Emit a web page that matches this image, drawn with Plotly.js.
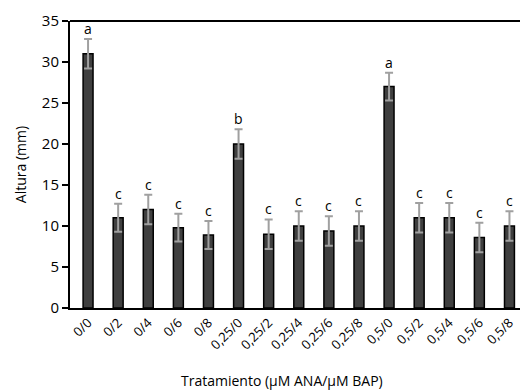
<!DOCTYPE html>
<html><head><meta charset="utf-8">
<script src="https://cdn.plot.ly/plotly-3.0.1.min.js"></script>
<style>html,body{margin:0;padding:0;background:#fff}</style>
</head><body><div id="chart" style="width:520px;height:390px"></div>
<script>
var categories = ["0/0","0/2","0/4","0/6","0/8","0,25/0","0,25/2","0,25/4","0,25/6","0,25/8","0,5/0","0,5/2","0,5/4","0,5/6","0,5/8"];
var heights = [31, 11, 12, 9.8, 8.9, 20, 9, 10, 9.4, 10, 27, 11, 11, 8.6, 10];
var errors = [1.8, 1.7, 1.8, 1.7, 1.7, 1.8, 1.8, 1.8, 1.8, 1.8, 1.7, 1.8, 1.8, 1.8, 1.8];
var letters = ["a","c","c","c","c","b","c","c","c","c","a","c","c","c","c"];

var font = "Open Sans, Liberation Sans, sans-serif";
var annotations = categories.map(function(c, i){
  return {x: i, y: heights[i] + errors[i], text: letters[i], showarrow: false,
          yanchor: "bottom", yshift: -1, font: {family: font, size: 14, color: "#000"}};
});
annotations.push({xref:"paper", yref:"paper", x:0.47, y:0, yshift:-61, text:"Tratamiento (µM ANA/µM BAP)",
  showarrow:false, yanchor:"top", font:{family:font, size:14, color:"#000"}});

var trace = {
  type: "bar", x: categories.map(function(c,i){return i;}), y: heights,
  width: 0.33,
  marker: {color: "#3f3f3f", line: {color: "#000", width: 1.5}},
  error_y: {type: "data", array: errors, visible: true, color: "#a0a0a0", thickness: 2, width: 4}
};

var layout = {
  width: 520, height: 390,
  margin: {l: 70, r: 0, t: 21, b: 82},
  paper_bgcolor: "#fff", plot_bgcolor: "#fff",
  showlegend: false,
  font: {family: font, size: 13, color: "#000"},
  xaxis: {
    range: [-0.6, 14.35], tickmode: "array",
    tickvals: categories.map(function(c,i){return i;}), ticktext: categories,
    tickangle: -45, showline: true, linecolor: "#000", linewidth: 2,
    ticks: "", showgrid: false, zeroline: false,
    tickfont: {family: font, size: 13, color: "#000"}
  },
  yaxis: {
    range: [0, 35], dtick: 5, tick0: 0, showline: true, linecolor: "#000", linewidth: 2,
    ticks: "outside", ticklen: 6, tickwidth: 2, tickcolor: "#000",
    showgrid: false, zeroline: false,
    tickfont: {family: font, size: 15, color: "#000"},
    title: {text: "Altura (mm)", font: {family: font, size: 14, color: "#000"}, standoff: 12}
  },
  shapes: [{type:"line", xref:"paper", yref:"paper", x0:0, x1:1, y0:1, y1:1, line:{color:"#000", width:2}}],
  annotations: annotations
};
Plotly.newPlot("chart", [trace], layout, {displayModeBar: false, staticPlot: true});
</script></body></html>
